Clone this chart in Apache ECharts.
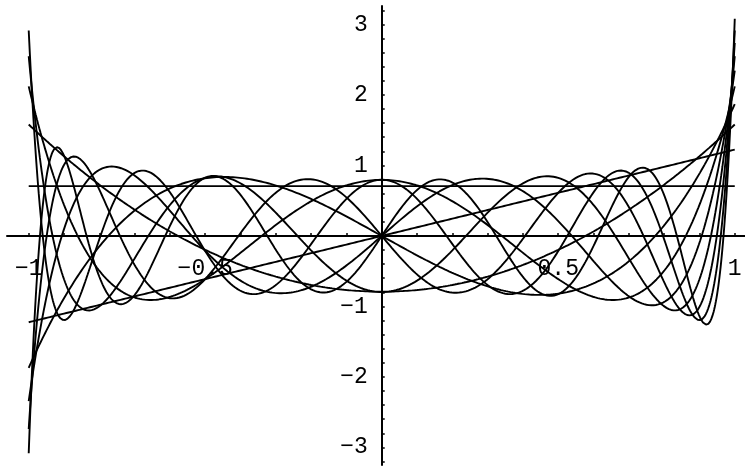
<!DOCTYPE html>
<html>
<head>
<meta charset="utf-8">
<script src="https://cdn.jsdelivr.net/npm/echarts@6/dist/echarts.min.js"></script>
<style>
  html, body { margin: 0; padding: 0; background: #fff; }
  #chart { width: 745px; height: 467px; }
</style>
</head>
<body>
<div id="chart"></div>
<script>
// Orthonormal Legendre polynomials sqrt((2n+1)/2) * P_n(x) on [-1, 1]
const degrees = [0, 1, 2, 3, 4, 5, 6, 7, 8, 9];
const xLabelValues = [-1, -0.5, 0.5, 1];
const yLabelValues = [-3, -2, -1, 1, 2, 3];
const xMinorStep = 0.1;
const yMinorStep = 0.2;
const sampleCount = 1200;

function legendreRows(x) {
  const p = [1, x];
  for (let n = 1; n < degrees[degrees.length - 1]; n++) {
    p.push(((2 * n + 1) * x * p[n] - n * p[n - 1]) / (n + 1));
  }
  return p;
}

const curves = degrees.map(() => []);
for (let i = 0; i <= sampleCount; i++) {
  const x = -1 + 2 * i / sampleCount;
  const p = legendreRows(x);
  degrees.forEach((n, k) => {
    curves[k].push([x, Math.sqrt((2 * n + 1) / 2) * p[n]]);
  });
}

function tickList(lo, hi, step) {
  const out = [];
  for (let k = Math.ceil(lo / step - 1e-9); k * step <= hi + 1e-9; k++) {
    if (k !== 0) out.push(Math.round(k * step * 1000) / 1000);
  }
  return out;
}

const W = 745, H = 467;
const gridBox = { left: 7, right: 0, top: 6, bottom: 2 };
const xMin = -1.0615, xMax = 1.029;
const yMin = -3.25, yMax = 3.262;

// Axes cross at the origin: shift each axis from the grid edge to zero
const plotW = W - gridBox.left - gridBox.right;
const plotH = H - gridBox.top - gridBox.bottom;
const xAxisOffset = -plotH * (0 - yMin) / (yMax - yMin);
const yAxisOffset = -plotW * (0 - xMin) / (xMax - xMin);

const labelFont = {
  fontFamily: 'Liberation Mono',
  fontSize: 23,
  color: '#000'
};
const fmt = v => String(v).replace('-', '\u2212');

const chart = echarts.init(document.getElementById('chart'), null, { renderer: 'canvas' });
chart.setOption({
  animation: false,
  backgroundColor: '#fff',
  grid: Object.assign({ containLabel: false, outerBoundsMode: 'none' }, gridBox),
  xAxis: {
    type: 'value', min: xMin, max: xMax, position: 'bottom', offset: xAxisOffset,
    axisLine: { onZero: false, lineStyle: { color: '#000', width: 2 } },
    axisTick: { show: true, inside: true, length: 3, customValues: tickList(-1, 1, xMinorStep),
      lineStyle: { color: '#000', width: 1.5 } },
    axisLabel: Object.assign({ customValues: xLabelValues, formatter: fmt, margin: 21, hideOverlap: false }, labelFont),
    splitLine: { show: false }
  },
  yAxis: {
    type: 'value', min: yMin, max: yMax, position: 'left', offset: yAxisOffset,
    axisLine: { onZero: false, lineStyle: { color: '#000', width: 2 } },
    axisTick: { show: true, inside: true, length: 3, customValues: tickList(-3.2, 3.2, yMinorStep),
      lineStyle: { color: '#000', width: 1.5 } },
    axisLabel: Object.assign({ customValues: yLabelValues, formatter: fmt, margin: 14, hideOverlap: false }, labelFont),
    splitLine: { show: false }
  },
  series: curves.map((data, k) => ({
    name: 'n = ' + degrees[k],
    type: 'line',
    data: data,
    showSymbol: false,
    clip: true,
    lineStyle: { color: '#000', width: 1.9 },
    emphasis: { disabled: true }
  }))
});
</script>
</body>
</html>
